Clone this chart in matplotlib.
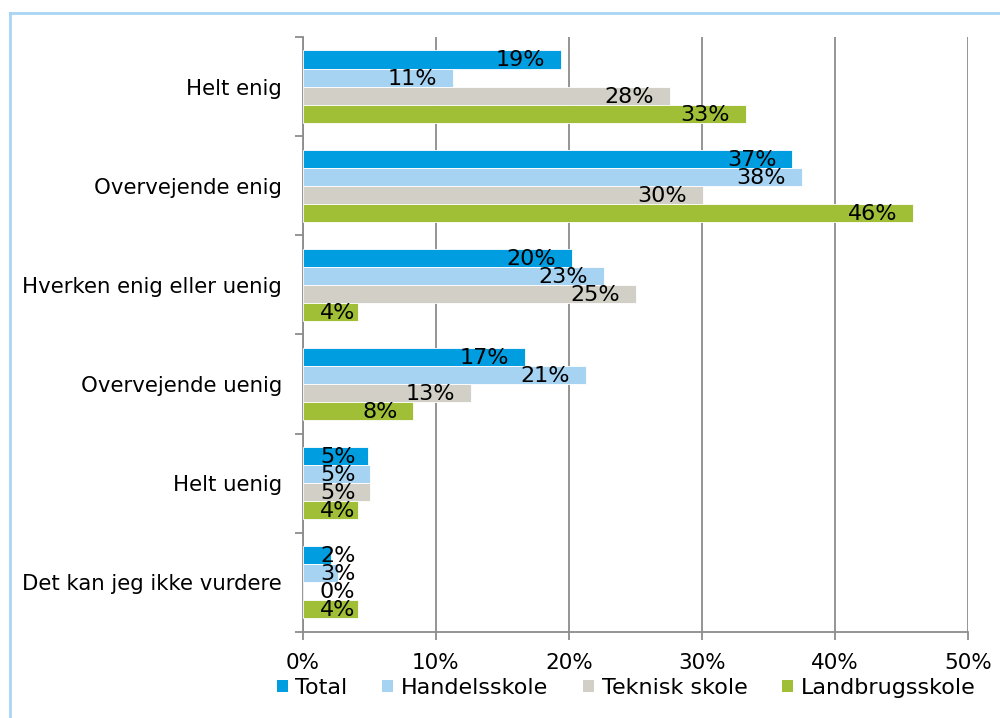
import matplotlib
matplotlib.use("Agg")
import matplotlib.pyplot as plt
from matplotlib.lines import Line2D
from matplotlib.patches import Patch
import numpy as np

categories = ["Helt enig", "Overvejende enig", "Hverken enig eller uenig",
              "Overvejende uenig", "Helt uenig", "Det kan jeg ikke vurdere"]
series_names = ["Total", "Handelsskole", "Teknisk skole", "Landbrugsskole"]
total = [19.4, 36.8, 20.2, 16.7, 4.9, 2.1]
handelsskole = [11.3, 37.5, 22.6, 21.3, 5.0, 2.6]
teknisk = [27.6, 30.1, 25.0, 12.6, 5.0, 0.0]
landbrug = [33.3, 45.9, 4.1, 8.3, 4.1, 4.1]
xticks = [0, 10, 20, 30, 40, 50]
xticklabels = ["0%", "10%", "20%", "30%", "40%", "50%"]
colors = ["#009EE0", "#A7D3F3", "#D1CFC6", "#A0BF37"]

series = [total, handelsskole, teknisk, landbrug]

plt.rcParams['font.family'] = ['DejaVu Sans']
fig = plt.figure(figsize=(10, 7.18), dpi=100)
ax = fig.add_axes([0.303, 0.1198, 0.665, 0.8287])

n = len(categories)
h = 0.182
y = np.arange(n)
bars = []
for k, (vals, c) in enumerate(zip(series, colors)):
    pos = y - 1.5 * h + k * h
    ax.barh(pos, vals, height=h, color=c, edgecolor="white", linewidth=0.6, zorder=3)
    bars.append((pos, vals))

ax.set_xlim(0, 50)
ax.set_ylim(n - 0.5, -0.5)

grid_c = "#8C8C8C"
ax.set_xticks(xticks)
ax.set_xticklabels(xticklabels, fontsize=15.5)
ax.xaxis.grid(True, color=grid_c, linewidth=1.3, zorder=0)
ax.tick_params(axis="x", direction="out", length=6, color=grid_c, width=1.3, pad=9)

ax.set_yticks(np.arange(-0.5, n, 1.0))
ax.set_yticklabels([])
ax.set_yticks(y, minor=True)
ax.set_yticklabels(categories, minor=True, fontsize=15.3)
ax.tick_params(axis="y", which="major", direction="out", length=6, color=grid_c, width=1.3)
ax.tick_params(axis="y", which="minor", length=0, pad=15)

for s in ["top", "right"]:
    ax.spines[s].set_visible(False)
for s in ["left", "bottom"]:
    ax.spines[s].set_color(grid_c)
    ax.spines[s].set_linewidth(1.3)

# data labels: inside end, but kept inside plot area
fig.canvas.draw()
renderer = fig.canvas.get_renderer()
px_per_unit = ax.transData.transform((1, 0))[0] - ax.transData.transform((0, 0))[0]
gap = 16 / px_per_unit
minleft = 17 / px_per_unit
for pos, vals in bars:
    for p, v in zip(pos, vals):
        lab = f"{v:.0f}%"
        t = ax.text(0, p, lab, fontsize=16, ha="right", va="center", zorder=5)
        bb = t.get_window_extent(renderer)
        w = bb.width / px_per_unit
        right = max(v - gap, minleft + w)
        t.set_position((right, p + 0.01))

handles = [Patch(facecolor=c, edgecolor="none") for c in colors]
fig.legend(handles, series_names, loc="center", bbox_to_anchor=(0.626, 0.042), ncol=4,
           frameon=False, fontsize=16, handlelength=0.5, handleheight=0.5,
           handletextpad=0.35, columnspacing=1.55, borderpad=0)

# chart border (top and left visible)
bc = "#A8D5F3"
fig.add_artist(Line2D([0.01, 1.0], [1 - 13 / 718, 1 - 13 / 718], transform=fig.transFigure,
                      color=bc, linewidth=2))
fig.add_artist(Line2D([0.01, 0.01], [0, 1 - 13 / 718], transform=fig.transFigure,
                      color=bc, linewidth=2))

fig.savefig("out.png", dpi=100)
